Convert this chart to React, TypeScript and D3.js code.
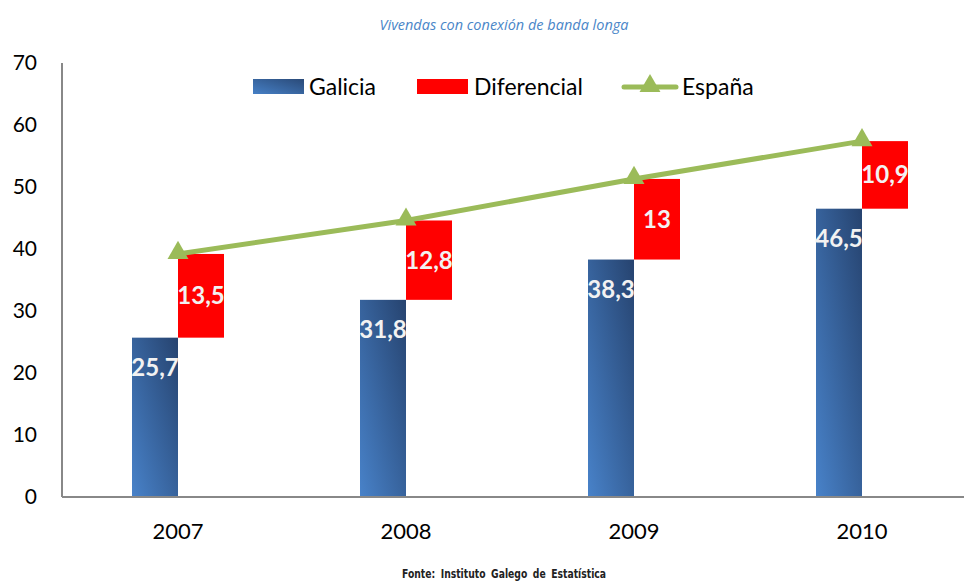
import React from "react";
import * as d3 from "d3";

const years = ["2007", "2008", "2009", "2010"];
const galicia = [25.7, 31.8, 38.3, 46.5];
const diferencial = [13.5, 12.8, 13, 10.9];
const yTicks = [0, 10, 20, 30, 40, 50, 60, 70];
const diffLabels = ["13,5", "12,8", "13", "10,9"];
const galLabels = ["25,7", "31,8", "38,3", "46,5"];

const W = 964;
const H = 584;
const FONT = "Lato, 'Open Sans', sans-serif";

export default function App() {
  const x = d3.scaleBand<string>().domain(years).range([64, 976]);
  const y = d3.scaleLinear().domain([0, 70]).range([497, 63]);
  const barW = 46;
  const espana = galicia.map((g, i) => +(g + diferencial[i]).toFixed(1));
  const cx = (yr: string) => (x(yr) as number) + x.bandwidth() / 2;
  const line = d3
    .line<number>()
    .x((_, i) => cx(years[i]))
    .y((d) => y(d));
  const tri = d3.symbol().type(d3.symbolTriangle).size(190);

  return (
    <svg
      width={W}
      height={H}
      style={{ position: "absolute", left: 0, top: 0, background: "#fff" }}
    >
      <defs>
        <linearGradient id="gal" x1="0" y1="1" x2="1" y2="0">
          <stop offset="0" stopColor="#4882c9" />
          <stop offset="1" stopColor="#26436f" />
        </linearGradient>
        <linearGradient id="galLeg" x1="0" y1="1" x2="1" y2="0">
          <stop offset="0" stopColor="#4680c6" />
          <stop offset="1" stopColor="#2a4a78" />
        </linearGradient>
      </defs>

      <text
        x={504}
        y={30}
        textAnchor="middle"
        fontFamily="'Open Sans', sans-serif"
        fontStyle="italic"
        fontSize={15}
        fill="#4a86c8"
        textLength={249}
        lengthAdjust="spacingAndGlyphs"
      >
        Vivendas con conexión de banda longa
      </text>

      {/* y axis labels */}
      {yTicks.map((t) => (
        <text
          key={t}
          x={37}
          y={y(t)}
          dy="0.35em"
          textAnchor="end"
          fontFamily={FONT}
          fontSize={21}
          fill="#000"
        >
          {t}
        </text>
      ))}

      {/* bars */}
      {years.map((yr, i) => (
        <g key={yr}>
          <rect
            x={cx(yr) - barW}
            y={y(galicia[i])}
            width={barW}
            height={y(0) - y(galicia[i])}
            fill="url(#gal)"
          />
          <rect
            x={cx(yr)}
            y={y(galicia[i] + diferencial[i])}
            width={barW}
            height={y(galicia[i]) - y(galicia[i] + diferencial[i])}
            fill="#ff0000"
          />
          <text
            x={cx(yr) - barW / 2}
            y={y(galicia[i]) + 30}
            dy="0.35em"
            textAnchor="middle"
            fontFamily={FONT}
            fontWeight="bold"
            fontSize={24}
            fill="#f2f2f2"
          >
            {galLabels[i]}
          </text>
          <text
            x={cx(yr) + barW / 2}
            y={(y(galicia[i]) + y(galicia[i] + diferencial[i])) / 2}
            dy="0.35em"
            textAnchor="middle"
            fontFamily={FONT}
            fontWeight="bold"
            fontSize={24}
            fill="#f2f2f2"
          >
            {diffLabels[i]}
          </text>
          <text
            x={cx(yr)}
            y={531}
            dy="0.35em"
            textAnchor="middle"
            fontFamily={FONT}
            fontSize={22}
            fill="#000"
          >
            {yr}
          </text>
        </g>
      ))}

      {/* axes */}
      <line x1={62} y1={63} x2={62} y2={497} stroke="#888" strokeWidth={2} />
      <line x1={62} y1={497} x2={964} y2={497} stroke="#888" strokeWidth={2} />

      {/* España line */}
      <path
        d={line(espana) || ""}
        fill="none"
        stroke="#9bbb59"
        strokeWidth={5}
        strokeLinecap="round"
      />
      {espana.map((v, i) => (
        <path
          key={i}
          d={tri() || ""}
          transform={`translate(${cx(years[i])},${y(v) - 1})`}
          fill="#9bbb59"
        />
      ))}

      {/* legend */}
      <rect x={253} y={79} width={51} height={15} fill="url(#galLeg)" />
      <text x={309} y={87} dy="0.35em" fontFamily={FONT} fontSize={23} fill="#000">
        Galicia
      </text>
      <rect x={417} y={79} width={51} height={15} fill="#ff0000" />
      <text x={474} y={87} dy="0.35em" fontFamily={FONT} fontSize={23} fill="#000">
        Diferencial
      </text>
      <line
        x1={624}
        y1={87}
        x2={676}
        y2={87}
        stroke="#9bbb59"
        strokeWidth={5}
        strokeLinecap="round"
      />
      <path d={tri() || ""} transform="translate(650,86)" fill="#9bbb59" />
      <text x={682} y={87} dy="0.35em" fontFamily={FONT} fontSize={23} fill="#000">
        España
      </text>

      <text
        x={504}
        y={578}
        textAnchor="middle"
        fontFamily="'DejaVu Sans Condensed', 'Liberation Sans Narrow', sans-serif"
        fontWeight="bold"
        fontSize={13}
        fill="#222"
        textLength={204}
        lengthAdjust="spacingAndGlyphs"
        wordSpacing={3}
      >
        Fonte: Instituto Galego de Estatística
      </text>
    </svg>
  );
}
